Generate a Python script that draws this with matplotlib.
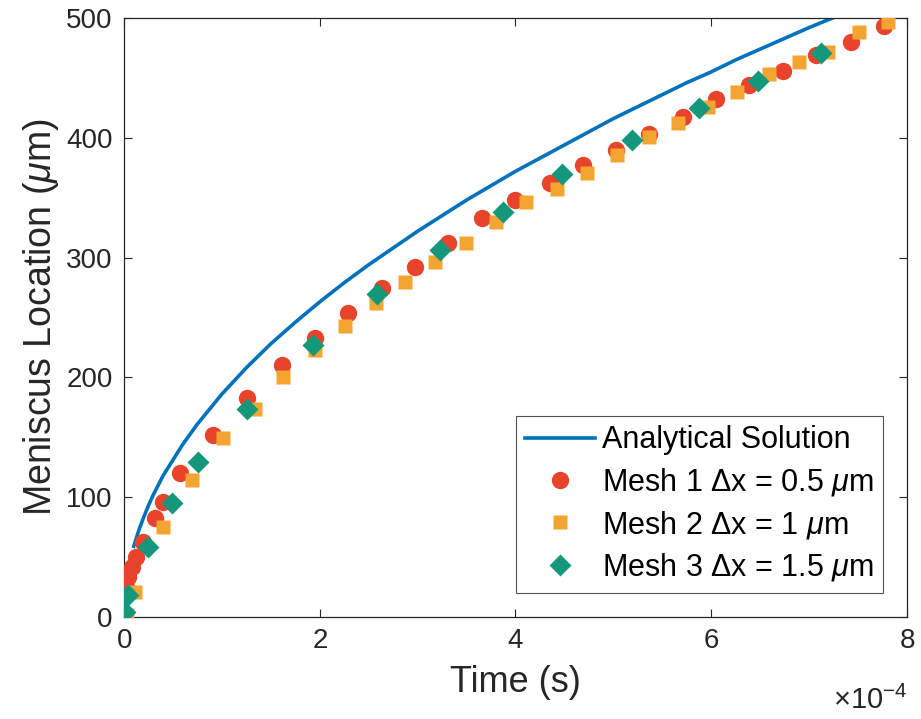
import matplotlib
matplotlib.use("Agg")
import matplotlib.pyplot as plt
from matplotlib.ticker import ScalarFormatter

plt.rcParams['font.family'] = ['Liberation Sans', 'DejaVu Sans']
plt.rcParams['mathtext.fontset'] = 'custom'
plt.rcParams['mathtext.rm'] = 'Liberation Sans'
plt.rcParams['mathtext.it'] = 'Liberation Sans:italic'

# times are in units of 1e-4 s, locations in micrometres
t_exact = [0.1, 0.15, 0.2, 0.25, 0.3, 0.35, 0.4, 0.5, 0.6, 0.75, 0.9, 1.0,
           1.25, 1.5, 1.75, 2.0, 2.25, 2.5, 2.75, 3.0, 3.25, 3.5, 3.75, 4.0,
           4.25, 4.5, 4.75, 5.0, 5.25, 5.5, 5.75, 6.0, 6.25, 6.5, 6.75, 7.0, 7.24]
L_exact = [59, 72, 83, 93, 102, 110, 118, 131, 144, 161, 176, 186,
           208, 228, 246, 263, 279, 294, 308, 322, 335, 348, 360, 372,
           383, 394, 405, 416, 426, 436, 446, 455, 465, 474, 483, 492, 500]

t_mesh1 = [0.02, 0.04, 0.08, 0.12, 0.19, 0.32, 0.40, 0.57, 0.91, 1.26, 1.61,
           1.95, 2.29, 2.64, 2.97, 3.31, 3.66, 4.00, 4.35, 4.69, 5.03, 5.36,
           5.71, 6.05, 6.39, 6.73, 7.07, 7.43, 7.76]
L_mesh1 = [25, 33, 42, 50, 63, 83, 96, 120, 152, 183, 210,
           233, 254, 275, 292, 312, 333, 348, 362, 377, 390, 403,
           417, 432, 444, 456, 469, 480, 493]

t_mesh2 = [0.03, 0.11, 0.40, 0.70, 1.01, 1.34, 1.62, 1.95, 2.26, 2.58, 2.87,
           3.18, 3.49, 3.80, 4.11, 4.42, 4.73, 5.04, 5.36, 5.66, 5.97, 6.26,
           6.59, 6.90, 7.19, 7.51, 7.81]
L_mesh2 = [2, 21, 75, 114, 149, 174, 200, 223, 243, 262, 280,
           296, 312, 330, 346, 357, 371, 386, 401, 412, 426, 438,
           453, 463, 472, 488, 497]

t_mesh3 = [0.01, 0.04, 0.25, 0.49, 0.76, 1.26, 1.93, 2.59, 3.23, 3.87, 4.48,
           5.19, 5.87, 6.48, 7.12]
L_mesh3 = [4, 18, 58, 95, 129, 174, 227, 270, 306, 338, 370,
           398, 425, 447, 471]

fig = plt.figure(figsize=(9.21, 7.19), dpi=100)
ax = fig.add_axes([0.1346, 0.1419, 0.8502, 0.8331])

ax.plot([t * 1e-4 for t in t_exact], L_exact, color='#0072BD', lw=2.6,
        label='Analytical Solution', zorder=2)
ax.plot([t * 1e-4 for t in t_mesh1], L_mesh1, 'o', color='#E8432B', ms=12.5,
        mec='none', label='Mesh 1 Δx = 0.5 $\\mu$m', zorder=3)
ax.plot([t * 1e-4 for t in t_mesh2], L_mesh2, 's', color='#F3A431', ms=10,
        mec='none', label='Mesh 2 Δx = 1 $\\mu$m', zorder=4)
ax.plot([t * 1e-4 for t in t_mesh3], L_mesh3, 'D', color='#14977B', ms=11,
        mec='none', label='Mesh 3 Δx = 1.5 $\\mu$m', zorder=5)

ax.set_xlim(0, 8e-4)
ax.set_ylim(0, 500)
ax.set_xticks([0, 2e-4, 4e-4, 6e-4, 8e-4])
ax.set_yticks([0, 100, 200, 300, 400, 500])

fmt = ScalarFormatter(useMathText=True)
fmt.set_powerlimits((0, 0))
ax.xaxis.set_major_formatter(fmt)
ax.xaxis.get_offset_text().set_visible(False)
ax.text(1.0, -0.115, '$\\times$10$^{-4}$', transform=ax.transAxes,
        ha='right', va='top', fontsize=21, color='#262626')

ax.tick_params(direction='in', length=6, width=0.8, top=True, right=True,
               labelsize=20, colors='#262626', pad=8)
for s in ax.spines.values():
    s.set_color('#262626')
    s.set_linewidth(0.9)

ax.set_xlabel('Time (s)', fontsize=26, color='#262626', labelpad=8)
ax.set_ylabel('Meniscus Location ($\\mu$m)', fontsize=27, color='#262626', labelpad=4)

leg = ax.legend(loc='lower right', fontsize=22, frameon=True, fancybox=False,
                edgecolor='#262626', handlelength=2.3, handletextpad=0.2,
                labelspacing=0.35, borderpad=0.3, borderaxespad=0.8)
leg.get_frame().set_linewidth(0.8)

fig.savefig('out.png', dpi=100)
